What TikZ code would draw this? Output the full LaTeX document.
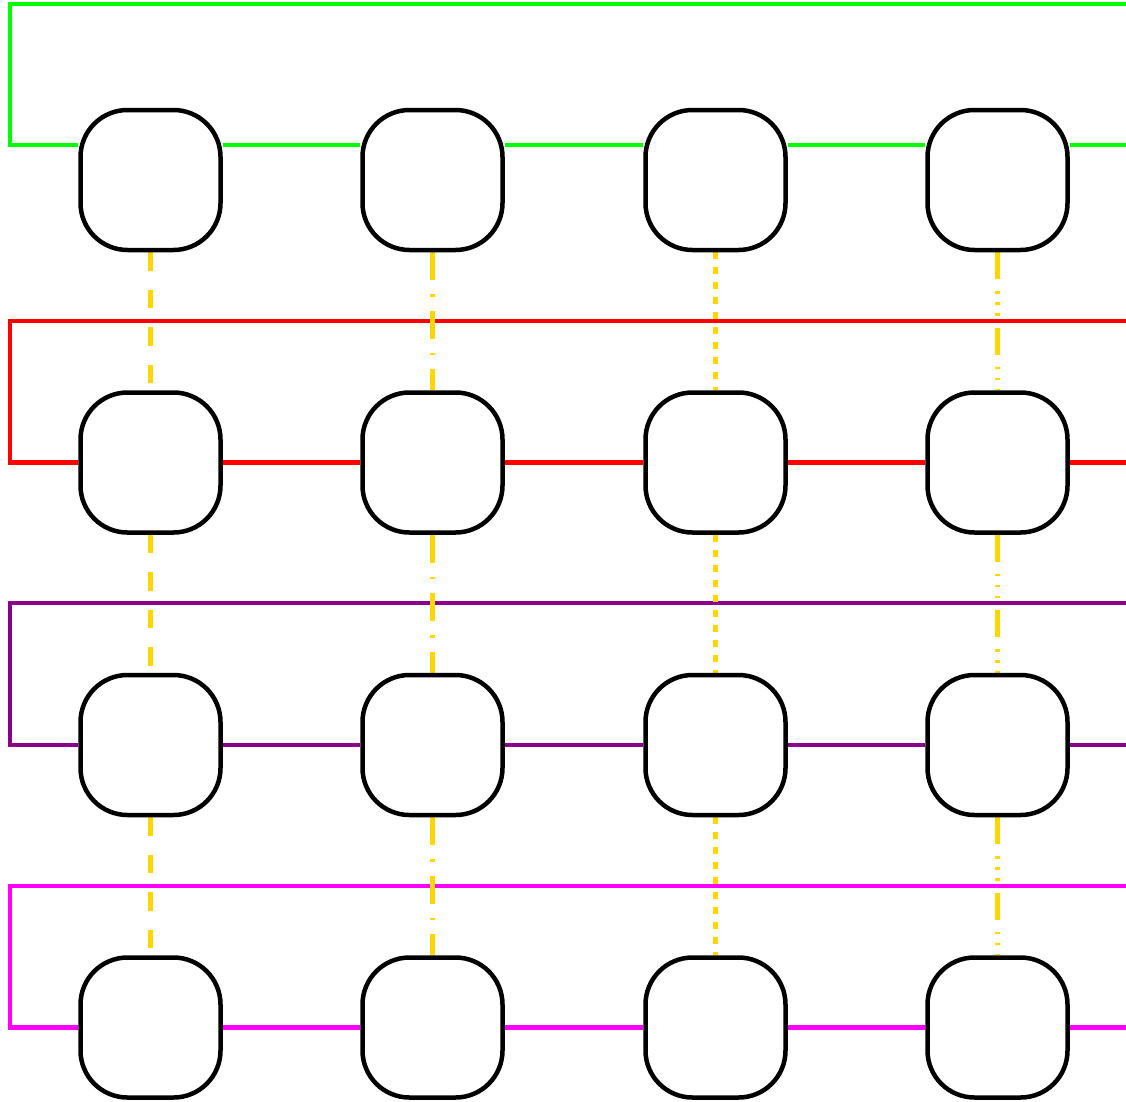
\documentclass[tikz,border=0pt]{standalone}
\usetikzlibrary{calc,backgrounds}
\definecolor{cgreen}{RGB}{0,255,0}
\definecolor{cred}{RGB}{255,0,0}
\definecolor{cpurple}{RGB}{139,0,139}
\definecolor{cmag}{RGB}{255,0,255}
\definecolor{cgold}{RGB}{255,214,0}
\tikzset{
  cell/.style={draw=black, fill=white, line width=4.5pt, rounded corners=47pt, minimum size=140pt, inner sep=0pt},
  ring/.style={line width=4.5pt},
  vlink/.style={draw=cgold, line width=4.5pt},
  patA/.style={dash pattern=on 18.5pt off 19pt},
  patB/.style={dash pattern=on 28pt off 14pt on 2.5pt off 14pt},
  patC/.style={dash pattern=on 7pt off 8pt},
  patD/.style={dash pattern=on 27pt off 12pt on 2.5pt off 8.5pt on 2.5pt off 8.5pt on 2.5pt off 12pt}
}
\begin{document}
\begin{tikzpicture}[x=1pt,y=-1pt]
\useasboundingbox (0,0) rectangle (1126,1101);
% nodes
\foreach \r/\yy in {1/180,2/462.5,3/745,4/1027.5}{
  \foreach \c/\xx in {1/150.5,2/432.5,3/715.5,4/997.5}{
    \node[cell] (n\r\c) at (\xx,\yy) {};
  }
}
% free-end coordinates
\coordinate (gA) at (10,145);  \coordinate (gB) at (10,4);    \coordinate (gC) at (1126,4);    \coordinate (gD) at (1126,145);
\coordinate (rA) at (10,462.5); \coordinate (rB) at (10,321);  \coordinate (rC) at (1126,321);  \coordinate (rD) at (1126,462.5);
\coordinate (pA) at (10,745); \coordinate (pB) at (10,603);  \coordinate (pC) at (1126,603);  \coordinate (pD) at (1126,745);
\coordinate (mA) at (10,1027.5); \coordinate (mB) at (10,886);  \coordinate (mC) at (1126,886);  \coordinate (mD) at (1126,1027.5);
\begin{scope}[on background layer]
% green row (offset line)
\draw[ring, cgreen] ($(n11.west)+(0,-35)$) -- (gA) -- (gB) -- (gC);
\draw[ring, cgreen] ($(n11.east)+(0,-35)$) -- ($(n12.west)+(0,-35)$);
\draw[ring, cgreen] ($(n12.east)+(0,-35)$) -- ($(n13.west)+(0,-35)$);
\draw[ring, cgreen] ($(n13.east)+(0,-35)$) -- ($(n14.west)+(0,-35)$);
\draw[ring, cgreen] ($(n14.east)+(0,-35)$) -- (gD);
% red row
\draw[ring, cred] (n21.west) -- (rA) -- (rB) -- (rC);
\draw[ring, cred] (n21.east) -- (n22.west);
\draw[ring, cred] (n22.east) -- (n23.west);
\draw[ring, cred] (n23.east) -- (n24.west);
\draw[ring, cred] (n24.east) -- (rD);
% purple row
\draw[ring, cpurple] (n31.west) -- (pA) -- (pB) -- (pC);
\draw[ring, cpurple] (n31.east) -- (n32.west);
\draw[ring, cpurple] (n32.east) -- (n33.west);
\draw[ring, cpurple] (n33.east) -- (n34.west);
\draw[ring, cpurple] (n34.east) -- (pD);
% magenta row
\draw[ring, cmag] (n41.west) -- (mA) -- (mB) -- (mC);
\draw[ring, cmag] (n41.east) -- (n42.west);
\draw[ring, cmag] (n42.east) -- (n43.west);
\draw[ring, cmag] (n43.east) -- (n44.west);
\draw[ring, cmag] (n44.east) -- (mD);
% vertical links
\foreach \r/\s in {1/2,2/3,3/4}{
  \draw[vlink, patA] (n\r1.south) -- (n\s1.north);
  \draw[vlink, patB] (n\r2.south) -- (n\s2.north);
  \draw[vlink, patC] (n\r3.south) -- (n\s3.north);
  \draw[vlink, patD] (n\r4.south) -- (n\s4.north);
}
\end{scope}
\end{tikzpicture}
\end{document}
